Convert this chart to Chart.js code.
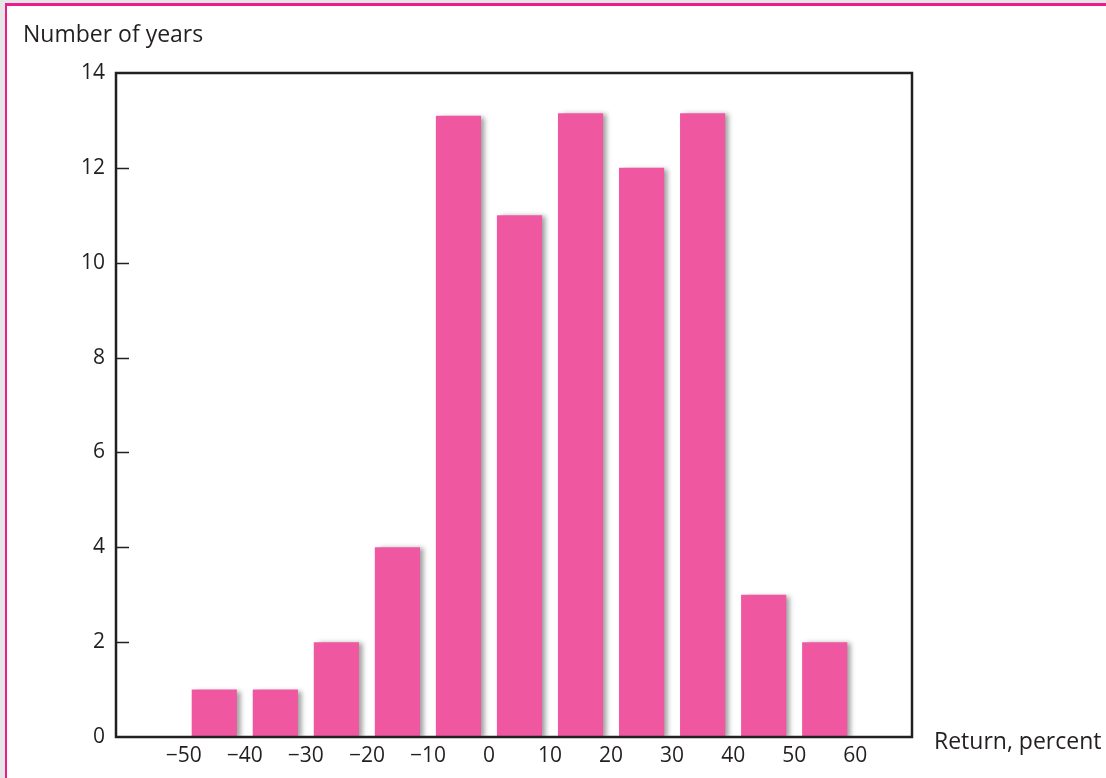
<!DOCTYPE html>
<html>
<head>
<meta charset="utf-8">
<script src="https://cdn.jsdelivr.net/npm/chart.js@4.4.1/dist/chart.umd.min.js"></script>
<style>
    html, body { margin: 0; padding: 0; }
    body { width: 1106px; height: 778px; background: #e6e6e6; position: relative; overflow: hidden; }
    .frame {
        position: absolute; left: 5px; top: 3px; right: 0; bottom: 0;
        background: #fff;
        border-top: 3px solid #ec1c8e;
        border-left: 2px solid #ec1c8e;
    }
    #histChart { position: absolute; left: 0; top: 0; }
</style>
</head>
<body>
<div class="frame"></div>
<canvas id="histChart" width="1106" height="778"></canvas>
<script>
// Bin midpoints (return, percent) and number of years in each bin
const binCenters = [-45, -35, -25, -15, -5, 5, 15, 25, 35, 45, 55];
const yearCounts = [1, 1, 2, 4, 13.1, 11, 13.15, 12, 13.15, 3, 2];

// Axis ticks
const xTickValues = [-50, -40, -30, -20, -10, 0, 10, 20, 30, 40, 50, 60];
const xTickLabels = ['\u221250', '\u221240', '\u221230', '\u221220', '\u221210', '0', '10', '20', '30', '40', '50', '60'];
const yTickValues = [0, 2, 4, 6, 8, 10, 12, 14];

const yTitle = 'Number of years';
const xTitle = 'Return, percent';

const INK = '#231f20';
const FONT = '"Open Sans", Lato, sans-serif';

// Plot box, inward y-tick marks, axis titles and bar shadows
const histDecor = {
    id: 'histDecor',
    beforeDatasetsDraw(chart) {
        const ctx = chart.ctx;
        ctx.save();
        ctx.shadowColor = 'rgba(0, 0, 0, 0.38)';
        ctx.shadowBlur = 5;
        ctx.shadowOffsetX = 4;
        ctx.shadowOffsetY = 1;
    },
    afterDatasetsDraw(chart) {
        const ctx = chart.ctx;
        ctx.restore();

        const a = chart.chartArea;
        const y = chart.scales.y;

        ctx.save();
        ctx.strokeStyle = INK;
        ctx.lineWidth = 1.5;
        yTickValues.forEach(v => {
            if (v === 0 || v === 14) return;
            const py = Math.round(y.getPixelForValue(v)) + 0.5;
            ctx.beginPath();
            ctx.moveTo(a.left, py);
            ctx.lineTo(a.left + 13, py);
            ctx.stroke();
        });

        ctx.lineWidth = 2.5;
        ctx.strokeRect(a.left, a.top, a.right - a.left, a.bottom - a.top);

        ctx.fillStyle = INK;
        ctx.font = '23px ' + FONT;
        ctx.textBaseline = 'alphabetic';
        ctx.textAlign = 'left';
        ctx.fillText(yTitle, 23, 42);
        ctx.fillText(xTitle, 934, 749);
        ctx.restore();
    }
};

new Chart(document.getElementById('histChart'), {
    type: 'bar',
    data: {
        datasets: [{
            data: binCenters.map((c, i) => ({ x: c, y: yearCounts[i] })),
            backgroundColor: '#ef58a0',
            borderWidth: 0,
            barPercentage: 0.74,
            categoryPercentage: 1
        }]
    },
    options: {
        responsive: false,
        devicePixelRatio: 1,
        animation: false,
        layout: { padding: { left: 0, top: 73, right: 194, bottom: 0 } },
        scales: {
            x: {
                type: 'linear',
                offset: false,
                min: -61.1,
                max: 69.3,
                grid: { display: false, drawTicks: false, offset: false },
                border: { display: false },
                afterFit: s => { s.height = 41; },
                afterBuildTicks: s => { s.ticks = xTickValues.map(v => ({ value: v })); },
                ticks: {
                    autoSkip: false,
                    maxRotation: 0,
                    padding: 6,
                    color: INK,
                    font: { family: FONT, size: 21 },
                    callback: v => xTickLabels[xTickValues.indexOf(v)]
                }
            },
            y: {
                min: 0,
                max: 14,
                grid: { display: false, drawTicks: false },
                border: { display: false },
                afterFit: s => { s.width = 116; },
                afterBuildTicks: s => { s.ticks = yTickValues.map(v => ({ value: v })); },
                ticks: {
                    padding: 11,
                    color: INK,
                    font: { family: FONT, size: 21 }
                }
            }
        },
        plugins: {
            legend: { display: false },
            tooltip: { enabled: false }
        }
    },
    plugins: [histDecor]
});
</script>
</body>
</html>
